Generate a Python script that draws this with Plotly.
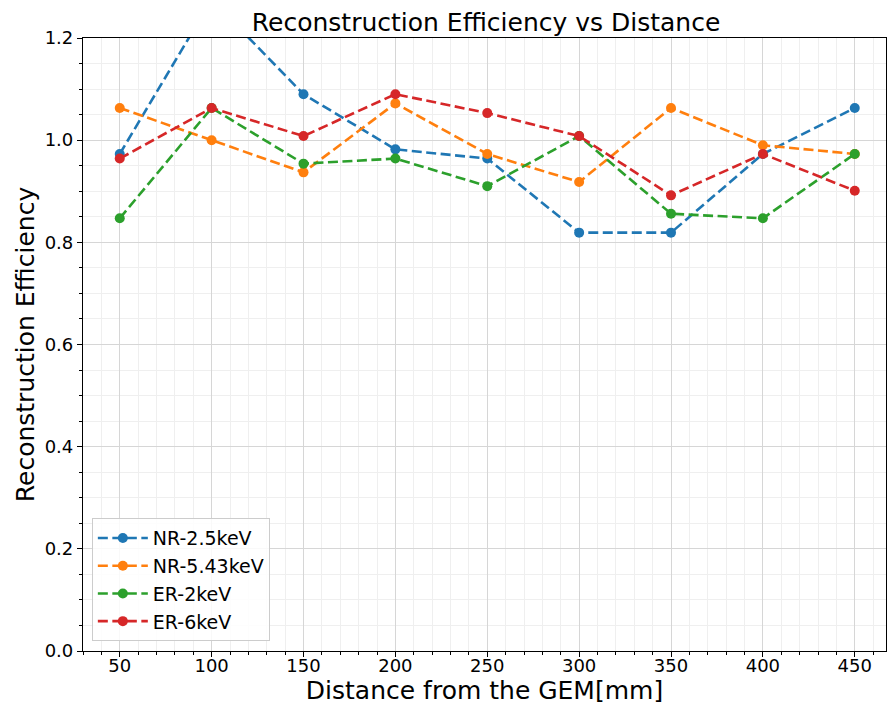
import plotly.graph_objects as go

distance = [50, 100, 150, 200, 250, 300, 350, 400, 450]
series_names = ["NR-2.5keV", "NR-5.43keV", "ER-2keV", "ER-6keV"]
nr_2p5 = [0.973, 1.275, 1.090, 0.982, 0.964, 0.819, 0.819, 0.973, 1.063]
nr_5p43 = [1.063, 1.000, 0.937, 1.072, 0.973, 0.918, 1.063, 0.990, 0.973]
er_2 = [0.847, 1.063, 0.954, 0.964, 0.910, 1.008, 0.856, 0.847, 0.973]
er_6 = [0.964, 1.063, 1.008, 1.090, 1.053, 1.008, 0.892, 0.973, 0.901]
y_tick_vals = [0.0, 0.2, 0.4, 0.6, 0.8, 1.0, 1.2]
x_tick_vals = [50, 100, 150, 200, 250, 300, 350, 400, 450]

colors = ["#1f77b4", "#ff7f0e", "#2ca02c", "#d62728"]
values = [nr_2p5, nr_5p43, er_2, er_6]

FONT = "DejaVu Sans"

fig = go.Figure()
for name, vals, col in zip(series_names, values, colors):
    fig.add_trace(go.Scatter(
        x=distance, y=vals, name=name, mode="lines+markers",
        line=dict(color=col, width=2.6, dash="10px,4.5px"),
        marker=dict(color=col, size=10),
    ))

axis_common = dict(
    showline=True, linecolor="black", linewidth=1.2, mirror=True,
    ticks="outside", ticklen=5, tickwidth=1.2, tickcolor="black",
    showgrid=True, gridcolor="#d6d6d6", gridwidth=1,
    zeroline=False,
    tickfont=dict(family=FONT, size=18, color="black"),
)

fig.update_xaxes(
    range=[30, 467], tickvals=x_tick_vals, ticklabelstandoff=-7,
    title=dict(text="Distance from the GEM[mm]", font=dict(family=FONT, size=25, color="black"), standoff=2),
    minor=dict(dtick=10, tick0=0, ticks="outside", ticklen=3, tickcolor="black",
               showgrid=True, gridcolor="#efefef", gridwidth=1),
    **axis_common,
)
fig.update_yaxes(
    range=[0, 1.2], tickvals=y_tick_vals, tickformat=".1f",
    title=dict(text="Reconstruction Efficiency", font=dict(family=FONT, size=25, color="black"), standoff=2),
    minor=dict(dtick=0.05, tick0=0, ticks="outside", ticklen=3, tickcolor="black",
               showgrid=True, gridcolor="#efefef", gridwidth=1),
    **axis_common,
)

fig.update_layout(
    width=887, height=708,
    margin=dict(l=83, r=1, t=38, b=57),
    paper_bgcolor="white", plot_bgcolor="white",
    title=dict(text="Reconstruction Efficiency vs Distance", x=0.548, xanchor="center",
               y=0.968, yanchor="middle",
               font=dict(family=FONT, size=25, color="black")),
    legend=dict(x=0.011, y=0.016, xanchor="left", yanchor="bottom",
                bgcolor="rgba(255,255,255,0.85)", bordercolor="#cccccc", borderwidth=1,
                font=dict(family=FONT, size=19, color="black"),
                itemwidth=50),
    showlegend=True,
)

fig.write_html("out.html")
